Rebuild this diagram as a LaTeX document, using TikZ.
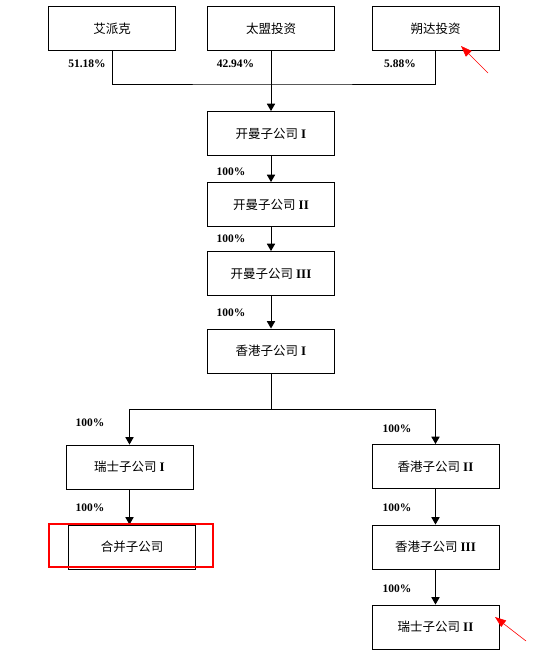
\documentclass[tikz,border=0pt]{standalone}
\usepackage{fontspec}
\setmainfont{Liberation Serif}
\newfontfamily\cjk{Noto Sans CJK SC}
\usepackage{tikz}
\usetikzlibrary{arrows}
\usetikzlibrary{arrows.meta}

\newcommand{\num}[1]{\hspace{3pt}{\fontsize{13}{14}\selectfont\rmfamily\bfseries #1}}
\tikzset{
  firm/.style={draw, line width=1pt, minimum width=127pt, minimum height=44pt, inner sep=0pt, font=\fontsize{12.5}{14}\selectfont\cjk},
  share/.style={inner sep=0pt, font=\fontsize{11.5}{13}\selectfont\bfseries},
  link/.style={line width=1pt},
  note/.style={red, line width=0.6pt, -{Triangle[length=11pt,width=8pt]}}
}

\begin{document}
\begin{tikzpicture}[x=1pt,y=-1pt]
          \useasboundingbox (0,0) rectangle (540,656);
          % shareholders
          \node[firm] (apex) at (112,28.5) {艾派克};
          \node[firm] (taimeng) at (271,28.5) {太盟投资};
          \node[firm] (shuoda) at (435.5,28.5) {朔达投资};
          \node[share] (p1) at (87,64) {51.18\%};
          \node[share] (p2) at (235.5,64) {42.94\%};
          \node[share] (p3) at (400,64) {5.88\%};
          % cayman chain
          \node[firm] (cayman1) at (271,133.5) {开曼子公司\num{I}};
          \node[firm] (cayman2) at (271,204.5) {开曼子公司\num{II}};
          \node[firm] (cayman3) at (271,273.5) {开曼子公司\num{III}};
          \node[firm] (hk1) at (271,351) {香港子公司\num{I}};
          \node[share] (p4) at (231,172) {100\%};
          \node[share] (p5) at (231,239) {100\%};
          \node[share] (p6) at (231,313) {100\%};
          % left branch
          \node[firm] (swiss1) at (129.5,467) {瑞士子公司\num{I}};
          \node[firm] (merged) at (132,547) {合并子公司};
          \node[share] (p7) at (90,423) {100\%};
          \node[share] (p8) at (90,508) {100\%};
          % right branch
          \node[firm] (hk2) at (435.5,466.5) {香港子公司\num{II}};
          \node[firm] (hk3) at (435.5,547) {香港子公司\num{III}};
          \node[firm] (swiss2) at (435.5,627) {瑞士子公司\num{II}};
          \node[share] (p9) at (397,429) {100\%};
          \node[share] (p10) at (397,508) {100\%};
          \node[share] (p11) at (397,589) {100\%};
          % lines between shareholders and cayman I
          \coordinate (join) at (271,84);
          \draw[link] (apex.south) |- (join) -| (shuoda.south);
          \draw[link,-triangle 60] (taimeng.south) -- (cayman1.north);
          \draw[link,-triangle 60] (cayman1) -- (cayman2);
          \draw[link,-triangle 60] (cayman2) -- (cayman3);
          \draw[link,-triangle 60] (cayman3) -- (hk1);
          % split below hong kong I
          \coordinate (split) at (271,409);
          \draw[link] (hk1.south) -- (split);
          \draw[link,-triangle 60] (split) -| (swiss1.north);
          \draw[link,-triangle 60] (swiss1.south) -- (swiss1.south |- merged.north);
          \draw[link,-triangle 60] (split) -| (hk2.north);
          \draw[link,-triangle 60] (hk2) -- (hk3);
          \draw[link,-triangle 60] (hk3) -- (swiss2);
          % red marks
          \draw[red, line width=2pt] (49,524) rectangle (213,567);
          \coordinate (tail1) at (488,73);
          \coordinate (head1) at (461,46);
          \draw[note] (tail1) -- (head1);
          \coordinate (tail2) at (526,641);
          \coordinate (head2) at (495,617);
          \draw[note] (tail2) -- (head2);
        \end{tikzpicture}
\end{document}
